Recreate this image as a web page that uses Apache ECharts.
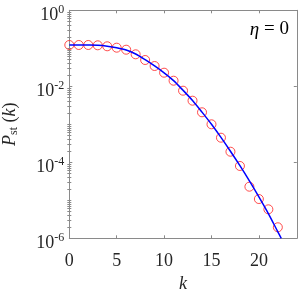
<!DOCTYPE html>
<html>
<head>
<meta charset="utf-8">
<script src="https://cdn.jsdelivr.net/npm/echarts@6/dist/echarts.min.js"></script>
<style>
html,body{margin:0;padding:0;background:#fff;}
#c{width:300px;height:289px;}
</style>
</head>
<body>
<div id="c"></div>
<script>
// Data
var kPoints = [0,1,2,3,4,5,6,7,8,9,10,11,12,13,14,15,16,17,18,19,20,21,22];
var pPoints = [0.1222,0.1222,0.1222,0.1199,0.1130,0.1038,0.0918,0.0695,0.0492,0.0342,0.0228,0.01403,0.00766,0.00418,0.00207,0.00100,4.44e-4,1.90e-4,8.0e-5,2.28e-5,1.08e-5,5.79e-6,1.95e-6];
var kLine = [0,1,2,3,4,5,6,7,8,9,10,11,12,13,14,15,16,17,18,19,20,21,22,22.36];
var pLine = [0.1222,0.1222,0.1216,0.1197,0.1135,0.1035,0.0902,0.0708,0.0501,0.0343,0.02265,0.01413,0.00785,0.00422,0.00209,0.00100,4.52e-4,1.95e-4,8.13e-5,3.24e-5,1.23e-5,4.47e-6,1.48e-6,1.0e-6];
var xTicks = [0,5,10,15,20];
var yTicks = [1e-6,1e-4,1e-2,1];
var annotation = '\u03b7 = 0';

var yMinor = [];
for (var e = -6; e < 0; e++) {
  for (var m = 1; m <= 9; m++) {
    var v = m * Math.pow(10, e);
    var isMajor = false;
    for (var i = 0; i < yTicks.length; i++) if (Math.abs(yTicks[i] - v) / v < 1e-9) isMajor = true;
    if (!isMajor) yMinor.push(v);
  }
}

var axisColor = '#8a8a8a';
var textColor = '#262626';
var serif = '"Liberation Serif", "DejaVu Serif", serif';

var chart = echarts.init(document.getElementById('c'), null, {renderer: 'canvas'});
var gridPos = {left: 69.3, top: 10.3, width: 227.5, height: 228, containLabel: false, outerBoundsMode: 'none'};

function zipPts(xs, ys) { return xs.map(function (x, i) { return [x, ys[i]]; }); }

var yLabelFmt = function (v) {
  var ex = Math.round(Math.log(v) / Math.LN10);
  return '{b|10}{s|' + ex + '}';
};

chart.setOption({
  animation: false,
  backgroundColor: '#fff',
  grid: gridPos,
  xAxis: [{
    type: 'value', min: 0, max: 24, position: 'bottom',
    axisLine: {show: true, onZero: false, lineStyle: {color: axisColor, width: 1}},
    axisTick: {show: true, inside: true, length: 3, customValues: xTicks, lineStyle: {color: axisColor}},
    axisLabel: {customValues: xTicks, color: textColor, fontFamily: serif, fontSize: 18, margin: 14},
    splitLine: {show: false},
    name: 'k', nameLocation: 'middle', nameGap: 37,
    nameTextStyle: {fontFamily: serif, fontStyle: 'italic', fontSize: 18, color: textColor}
  }, {
    type: 'value', min: 0, max: 24, position: 'top',
    axisLine: {show: true, onZero: false, lineStyle: {color: axisColor, width: 1}},
    axisTick: {show: true, inside: true, length: 3, customValues: xTicks, lineStyle: {color: axisColor}},
    axisLabel: {show: false},
    splitLine: {show: false}
  }],
  yAxis: [{
    type: 'log', logBase: 10, min: 1e-6, max: 1, position: 'left',
    axisLine: {show: true, onZero: false, lineStyle: {color: axisColor, width: 1}},
    axisTick: {show: true, inside: true, length: 3, customValues: yTicks, lineStyle: {color: axisColor}},
    axisLabel: {
      customValues: yTicks, formatter: yLabelFmt, margin: 5, padding: [10, 0, 0, 0],
      rich: {
        b: {fontFamily: serif, fontSize: 18, color: textColor, lineHeight: 18},
        s: {fontFamily: serif, fontSize: 12, color: textColor, lineHeight: 12, padding: [0, 0, 10, 0]}
      }
    },
    splitLine: {show: false},
    name: '{p|P}{s|st}{n| (}{k|k}{n|)}', nameLocation: 'middle', nameGap: 50, nameRotate: 90,
    nameTextStyle: {
      rich: {
        p: {fontFamily: serif, fontStyle: 'italic', fontSize: 18, color: textColor, lineHeight: 18},
        s: {fontFamily: serif, fontSize: 12, color: textColor, lineHeight: 12, padding: [8, 0, 0, 0]},
        n: {fontFamily: serif, fontSize: 18, color: textColor, lineHeight: 18},
        k: {fontFamily: serif, fontStyle: 'italic', fontSize: 18, color: textColor, lineHeight: 18}
      }
    }
  }, {
    type: 'log', logBase: 10, min: 1e-6, max: 1, position: 'left',
    axisLine: {show: false},
    axisTick: {show: true, inside: true, length: 2, customValues: yMinor, lineStyle: {color: axisColor}},
    axisLabel: {show: false},
    splitLine: {show: false}
  }, {
    type: 'log', logBase: 10, min: 1e-6, max: 1, position: 'right',
    axisLine: {show: true, onZero: false, lineStyle: {color: axisColor, width: 1}},
    axisTick: {show: true, inside: true, length: 3, customValues: yTicks, lineStyle: {color: axisColor}},
    axisLabel: {show: false},
    splitLine: {show: false}
  }, {
    type: 'log', logBase: 10, min: 1e-6, max: 1, position: 'right',
    axisLine: {show: false},
    axisTick: {show: true, inside: true, length: 2, customValues: yMinor, lineStyle: {color: axisColor}},
    axisLabel: {show: false},
    splitLine: {show: false}
  }],
  graphic: [{
    type: 'text', right: 11, top: 20,
    style: {
      text: '{i|\u03b7}{n| = 0}',
      rich: {
        i: {fontFamily: serif, fontStyle: 'italic', fontSize: 19, fill: '#000'},
        n: {fontFamily: serif, fontSize: 19, fill: '#000'}
      }
    }
  }],
  series: [{
    type: 'scatter', xAxisIndex: 0, yAxisIndex: 0,
    data: zipPts(kPoints, pPoints),
    symbol: 'circle', symbolSize: 9,
    itemStyle: {color: 'rgba(0,0,0,0)', borderColor: '#ff2020', borderWidth: 1},
    z: 2
  }, {
    type: 'line', xAxisIndex: 0, yAxisIndex: 0,
    data: zipPts(kLine, pLine),
    showSymbol: false, smooth: 0.3,
    lineStyle: {color: '#0000ff', width: 1.5},
    z: 3
  }]
});
</script>
</body>
</html>
